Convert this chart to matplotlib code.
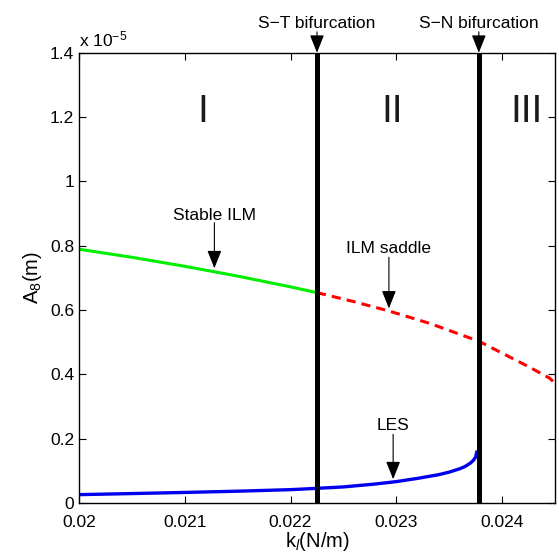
import matplotlib
matplotlib.use('Agg')
import matplotlib.pyplot as plt
import numpy as np
from matplotlib.ticker import FuncFormatter

plt.rcParams['font.family'] = ['Liberation Sans', 'DejaVu Sans']
plt.rcParams['mathtext.fontset'] = 'custom'
plt.rcParams['mathtext.rm'] = 'Liberation Sans'
plt.rcParams['mathtext.it'] = 'Liberation Sans:italic'

# amplitudes, in units of 1e-5 m
stable_k = [0.02, 0.0205, 0.021, 0.0215, 0.022, 0.02225]
stable_a = [0.789, 0.764, 0.736, 0.7055, 0.672, 0.654]

saddle_k = [0.02225, 0.0226, 0.02293, 0.02332, 0.02378, 0.02425, 0.02445, 0.0245]
saddle_a = [0.654, 0.626, 0.597, 0.558, 0.503, 0.424, 0.388, 0.372]

les_k = [0.02, 0.0205, 0.021, 0.0215, 0.022, 0.02225, 0.0225, 0.0228, 0.023,
         0.0232, 0.0234, 0.0235, 0.0236, 0.02365, 0.0237, 0.02373, 0.02375, 0.02376]
les_a = [0.026, 0.0293, 0.0328, 0.0367, 0.0415, 0.0456, 0.050, 0.059, 0.0665,
         0.0765, 0.088, 0.096, 0.1065, 0.1135, 0.124, 0.133, 0.143, 0.158]

k_st = 0.02225  # S-T bifurcation
k_sn = 0.02378  # S-N bifurcation

scale = 1e-5

fig = plt.figure(figsize=(5.59, 5.55), dpi=100)
ax = fig.add_axes([0.1413, 0.0937, 0.8515, 0.8113])

ax.plot(stable_k, np.array(stable_a) * scale, color='#00ee00', lw=2.2)
ax.plot(saddle_k, np.array(saddle_a) * scale, color='red', lw=2.2, dashes=(3, 2))
ax.plot(les_k, np.array(les_a) * scale, color='#0000ee', lw=2.4)

ax.axvline(k_st, color='k', lw=3.6)
ax.axvline(k_sn, color='k', lw=3.6)

ax.set_xlim(0.02, 0.0245)
ax.set_ylim(0, 1.4e-5)
ax.set_xticks([0.02, 0.021, 0.022, 0.023, 0.024])
ax.set_xticklabels(['0.02', '0.021', '0.022', '0.023', '0.024'])
ax.set_yticks(np.arange(0, 1.41, 0.2) * scale)
ax.yaxis.set_major_formatter(FuncFormatter(lambda v, p: '%g' % round(v / scale, 3)))
ax.tick_params(direction='in', top=True, right=True, length=5, labelsize=12.5, width=0.8)
ax.tick_params(axis='x', pad=8.5)
for s in ax.spines.values():
    s.set_linewidth(1.0)

ax.text(0, 1.008, r'x 10$^{-5}$', transform=ax.transAxes, fontsize=12.5,
        ha='left', va='bottom')

ax.set_xlabel(r'k$_l$(N/m)', fontsize=14.5, labelpad=0.5)
ax.set_ylabel(r'A$_8$(m)', fontsize=14.5, labelpad=4)

for lab, xk in [('I', 0.02117), ('II', 0.02296), ('III', 0.02423)]:
    ax.text(xk, 1.185 * scale, lab, fontsize=28, ha='center', va='baseline',
            color='#1a1a1a')

arrow = dict(arrowstyle='-|>,head_width=0.4,head_length=1.0', mutation_scale=11,
             color='k', lw=0.8, shrinkA=0, shrinkB=0)

# (label, x, text baseline, arrow tail, arrow tip)
notes = [('Stable ILM', 0.02128, 0.880, 0.8715, 0.73),
         ('ILM saddle', 0.02293, 0.776, 0.764, 0.605),
         ('LES', 0.02297, 0.227, 0.2135, 0.074),
         ('S\u2212T bifurcation', k_st, 1.476, 1.465, 1.4),
         ('S\u2212N bifurcation', k_sn, 1.476, 1.465, 1.4)]
for lab, xk, yt, ya, yb in notes:
    ax.text(xk, yt * scale, lab, fontsize=12.5, ha='center', va='baseline',
            clip_on=False)
    ax.annotate('', xy=(xk, yb * scale), xytext=(xk, ya * scale),
                arrowprops=arrow, annotation_clip=False)

fig.savefig('out.png', dpi=100)
